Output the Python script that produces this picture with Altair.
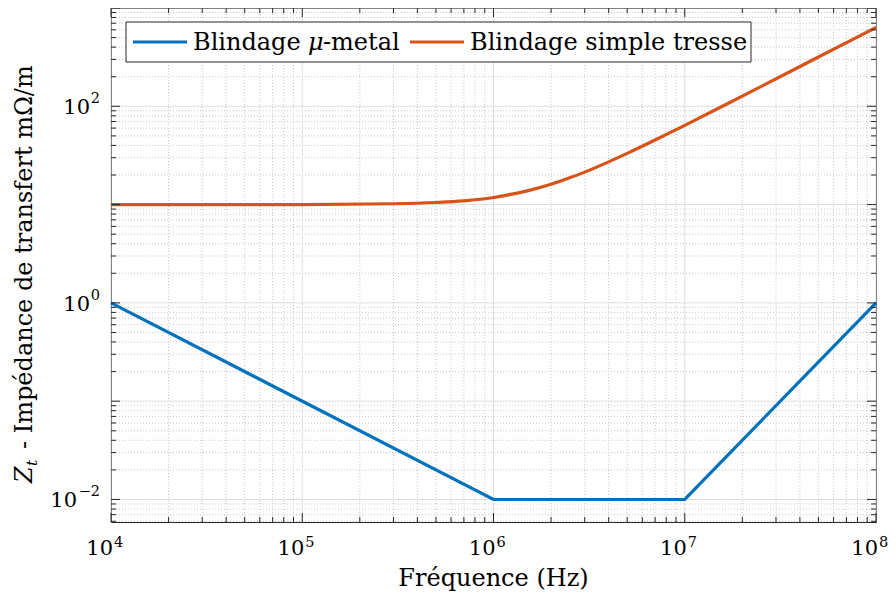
import altair as alt
import pandas as pd

# ---- data ----
series_names = ["Blindage μ-metal", "Blindage simple tresse"]
series_colors = ["#0072BD", "#D95319"]

freq_blue = [1e4, 1e6, 1e7, 1e8]
z_blue = [1.0, 0.01, 0.01, 1.0]

freq_orange = [1e4, 1e5, 3e5, 5e5, 7e5, 1e6, 1.2e6, 1.5e6, 2e6, 2.5e6, 3e6,
               4e6, 5e6, 7e6, 1e7, 2e7, 5e7, 1e8]
z_orange = [10, 10, 10.2, 10.5, 10.9, 11.8, 12.6, 13.8, 16.1, 18.7, 21.4,
            27.2, 33.2, 45.4, 64, 127, 317, 633]

x_exponents = [4, 5, 6, 7, 8]
y_exponents = [-2, 0, 2]
x_domain = [1e4, 1e8]
y_domain = [0.0059, 1000]

x_title = "Fréquence (Hz)"
y_title_main = "Z"
y_title_sub = "t"
y_title_rest = "- Impédance de transfert mΩ/m"

# ---- layout / style ----
W, H = 765, 514
FONT = "DejaVu Serif"
FS = 24          # titles / legend
FS_TICK = 21
FS_EXP = 14.5
AX = "#262626"

xs = alt.Scale(type="log", domain=x_domain, nice=False)
ys = alt.Scale(type="log", domain=y_domain, nice=False)

x_major = [10.0 ** k for k in range(4, 9)]
x_minor = [m * 10.0 ** k for k in range(4, 8) for m in range(2, 10)]
y_major = [10.0 ** k for k in range(-3, 4) if y_domain[0] <= 10.0 ** k <= y_domain[1]]
y_minor = [m * 10.0 ** k for k in range(-3, 3) for m in range(2, 10)
           if y_domain[0] <= m * 10.0 ** k <= y_domain[1]]

dxmaj = pd.DataFrame({"v": x_major})
dxmin = pd.DataFrame({"v": x_minor})
dymaj = pd.DataFrame({"v": y_major})
dymin = pd.DataFrame({"v": y_minor})

X = lambda f: alt.X(f, scale=xs, axis=None)
Y = lambda f: alt.Y(f, scale=ys, axis=None)

grid_minor_x = alt.Chart(dxmin).mark_rule(color="#c8c8c8", strokeDash=[1, 2], strokeWidth=1).encode(x=X("v:Q"))
grid_minor_y = alt.Chart(dymin).mark_rule(color="#c8c8c8", strokeDash=[1, 2], strokeWidth=1).encode(y=Y("v:Q"))
grid_major_x = alt.Chart(dxmaj).mark_rule(color="#dedede", strokeWidth=1).encode(x=X("v:Q"))
grid_major_y = alt.Chart(dymaj).mark_rule(color="#dedede", strokeWidth=1).encode(y=Y("v:Q"))

color = alt.Color("s:N", scale=alt.Scale(domain=series_names, range=series_colors), legend=None)

blue_df = pd.DataFrame({"f": freq_blue, "z": z_blue, "s": series_names[0]})
orange_df = pd.DataFrame({"f": freq_orange, "z": z_orange, "s": series_names[1]})

line_blue = alt.Chart(blue_df).mark_line(strokeWidth=3.2).encode(x=X("f:Q"), y=Y("z:Q"), color=color)
line_orange = alt.Chart(orange_df).mark_line(strokeWidth=3.2, interpolate="monotone").encode(
    x=X("f:Q"), y=Y("z:Q"), color=color)

def xticks(df, L):
    bot = alt.Chart(df).mark_rule(color=AX, strokeWidth=1).encode(
        x=X("v:Q"), y=alt.value(H), y2=alt.value(H - L))
    top = alt.Chart(df).mark_rule(color=AX, strokeWidth=1).encode(
        x=X("v:Q"), y=alt.value(0), y2=alt.value(L))
    return [bot, top]

def yticks(df, L):
    left = alt.Chart(df).mark_rule(color=AX, strokeWidth=1).encode(
        y=Y("v:Q"), x=alt.value(0), x2=alt.value(L))
    right = alt.Chart(df).mark_rule(color=AX, strokeWidth=1).encode(
        y=Y("v:Q"), x=alt.value(W), x2=alt.value(W - L))
    return [left, right]

ticks = xticks(dxmin, 5) + xticks(dxmaj, 9) + yticks(dymin, 5) + yticks(dymaj, 9)

# x tick labels
xlab = pd.DataFrame({"v": [10.0 ** e for e in x_exponents], "e": [str(e) for e in x_exponents]})
xl_base = alt.Chart(xlab).mark_text(font=FONT, fontSize=FS_TICK, align="right", baseline="alphabetic",
                                    dx=2, color="black").encode(
    x=X("v:Q"), y=alt.value(H + 33), text=alt.value("10"))
xl_exp = alt.Chart(xlab).mark_text(font=FONT, fontSize=FS_EXP, align="left", baseline="alphabetic",
                                   dx=3, color="black").encode(
    x=X("v:Q"), y=alt.value(H + 25), text="e:N")

# y tick labels
ylab = pd.DataFrame({"v": [10.0 ** e for e in y_exponents],
                     "e": [str(e).replace("-", "\u2212") for e in y_exponents],
                     "neg": [e < 0 for e in y_exponents]})
ylab_pos = ylab[~ylab["neg"]]
ylab_neg = ylab[ylab["neg"]]

def ylabels(df, base_x):
    base = alt.Chart(df).mark_text(font=FONT, fontSize=FS_TICK, align="right", baseline="alphabetic",
                                   dy=8, color="black").encode(
        y=Y("v:Q"), x=alt.value(base_x), text=alt.value("10"))
    exp = alt.Chart(df).mark_text(font=FONT, fontSize=FS_EXP, align="right", baseline="alphabetic",
                                  dy=-3, color="black").encode(
        y=Y("v:Q"), x=alt.value(-11), text="e:N")
    return [base, exp]

ylabs = ylabels(ylab_pos, -21) + ylabels(ylab_neg, -34)

# axis titles
tdf = pd.DataFrame({"t": [x_title]})
xt = alt.Chart(tdf).mark_text(font=FONT, fontSize=FS, align="center", baseline="alphabetic",
                              color="black").encode(
    x=alt.value(W / 2), y=alt.value(H + 64), text="t:N")

yt_df = pd.DataFrame({"a": [y_title_main], "b": [y_title_sub], "c": [y_title_rest]})
yt_common = dict(font=FONT, align="left", baseline="alphabetic", angle=270, color="black")
yt_z = alt.Chart(yt_df).mark_text(fontSize=FS, fontStyle="italic", **yt_common).encode(
    x=alt.value(-79), y=alt.value(475), text="a:N")
yt_t = alt.Chart(yt_df).mark_text(fontSize=FS_EXP + 1, fontStyle="italic", dx=17, dy=5, **yt_common).encode(
    x=alt.value(-79), y=alt.value(475), text="b:N")
yt_rest = alt.Chart(yt_df).mark_text(fontSize=FS, dx=34, **yt_common).encode(
    x=alt.value(-79), y=alt.value(475), text="c:N")

# legend (drawn by hand so that the box matches the reference)
one = pd.DataFrame({"k": [0]})
leg_box = alt.Chart(one).mark_rect(fill="white", stroke=AX, strokeWidth=1).encode(
    x=alt.value(15), x2=alt.value(640), y=alt.value(14), y2=alt.value(54))
leg_s1 = alt.Chart(one).mark_rule(color=series_colors[0], strokeWidth=3.2).encode(
    x=alt.value(22), x2=alt.value(76), y=alt.value(34))
leg_s2 = alt.Chart(one).mark_rule(color=series_colors[1], strokeWidth=3.2).encode(
    x=alt.value(299), x2=alt.value(353), y=alt.value(34))
name1_a, name1_c = series_names[0].split("μ")
leg_common = dict(font=FONT, fontSize=FS, align="left", baseline="alphabetic", color="black")
leg_t1a = alt.Chart(one).mark_text(**leg_common).encode(
    x=alt.value(82), y=alt.value(42), text=alt.value(name1_a.strip()))
leg_t1b = alt.Chart(one).mark_text(fontStyle="italic", **leg_common).encode(
    x=alt.value(197), y=alt.value(42), text=alt.value("μ"))
leg_t1c = alt.Chart(one).mark_text(**leg_common).encode(
    x=alt.value(212), y=alt.value(42), text=alt.value(name1_c))
leg_t2 = alt.Chart(one).mark_text(**leg_common).encode(
    x=alt.value(359), y=alt.value(42), text=alt.value(series_names[1]))

layers = ([grid_minor_x, grid_minor_y, grid_major_x, grid_major_y, line_orange, line_blue]
          + ticks + [xl_base, xl_exp] + ylabs + [xt, yt_z, yt_t, yt_rest]
          + [leg_box, leg_s1, leg_s2, leg_t1a, leg_t1b, leg_t1c, leg_t2])

chart = alt.layer(*layers).properties(
    width=W, height=H,
    autosize=alt.AutoSizeParams(type="none"),
    padding={"left": 103, "top": 0, "right": 12, "bottom": 71},
    background="white",
).configure_view(stroke=AX, strokeWidth=1).configure_axis(disable=True)

chart.save("out.html", embed_options={"renderer": "svg", "actions": False})
